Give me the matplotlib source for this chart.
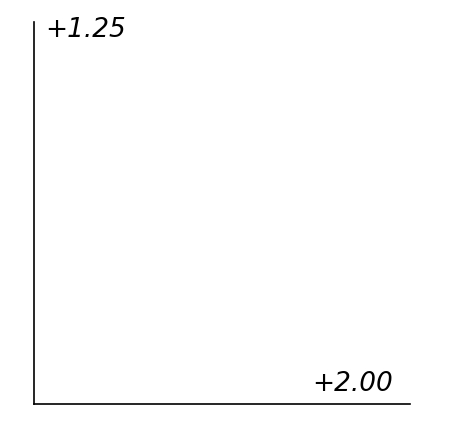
import matplotlib
matplotlib.use("Agg")
import matplotlib.pyplot as plt

labels = ["+1.25", "+2.00"]
label_x = [0.03, 0.955]
label_y = [0.962, 0.034]
label_ha = ["left", "right"]

fig = plt.figure(figsize=(4.5, 4.37), dpi=100)
ax = fig.add_axes([34/450, 33/437, 376/450, 382/437])
ax.set_xlim(0, 1)
ax.set_ylim(0, 1)
for s in ["top", "right"]:
    ax.spines[s].set_visible(False)
for s in ["left", "bottom"]:
    ax.spines[s].set_linewidth(1.2)
    ax.spines[s].set_color("black")
ax.set_xticks([])
ax.set_yticks([])
for t, x, y, ha in zip(labels, label_x, label_y, label_ha):
    ax.text(x, y, t, ha=ha, va="baseline", fontsize=19, style="italic",
            family="DejaVu Sans", transform=ax.transAxes)
fig.savefig("out.png", dpi=100, facecolor="white")
